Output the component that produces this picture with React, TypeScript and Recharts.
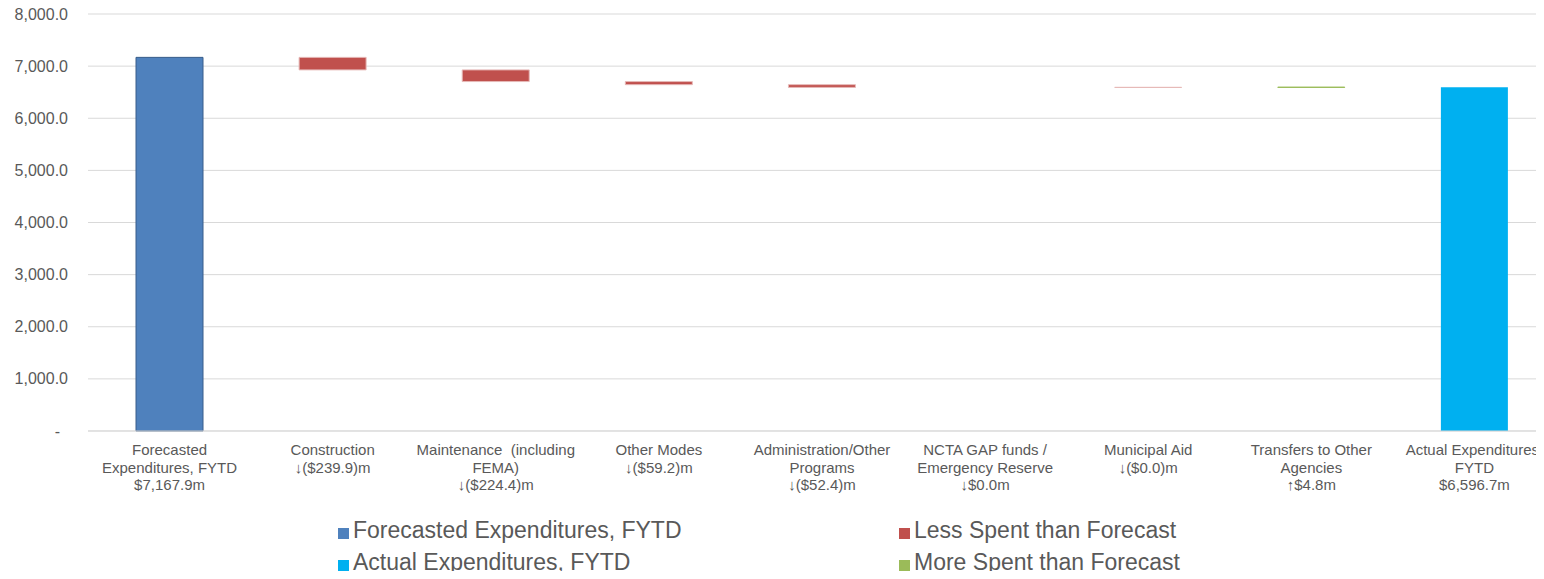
import React from "react";
import { BarChart, Bar, XAxis, YAxis, CartesianGrid } from "recharts";

// ---- data ----
const startLabel = ["Forecasted", "Expenditures, FYTD", "$7,167.9m"];
const endLabel = ["Actual Expenditures,", "FYTD", "$6,596.7m"];
const forecastTotal = 7167.9;
const actualTotal = 6596.7;

const deltaLabels: string[][] = [
  ["Construction", "↓($239.9)m"],
  ["Maintenance  (including", "FEMA)", "↓($224.4)m"],
  ["Other Modes", "↓($59.2)m"],
  ["Administration/Other", "Programs", "↓($52.4)m"],
  ["NCTA GAP funds /", "Emergency Reserve", "↓$0.0m"],
  ["Municipal Aid", "↓($0.0)m"],
  ["Transfers to Other", "Agencies", "↑$4.8m"],
];
const deltaValues = [-239.9, -224.4, -59.2, -52.4, 0.0, -0.02, 4.8];

const yTicks = [0, 1000, 2000, 3000, 4000, 5000, 6000, 7000, 8000];

const legendItems = [
  { label: "Forecasted Expenditures, FYTD", color: "#4F81BD", col: 0, row: 0 },
  { label: "Less Spent than Forecast", color: "#C0504D", col: 1, row: 0 },
  { label: "Actual Expenditures, FYTD", color: "#00B0F0", col: 0, row: 1 },
  { label: "More Spent than Forecast", color: "#9BBB59", col: 1, row: 1 },
];

const titleText = "Variance ($ millions) YTD, (FY 2025)";

// ---- build waterfall rows ----
type Row = {
  name: string;
  lines: string[];
  base: number;
  forecast: number;
  actual: number;
  less: number;
  more: number;
};

const rows: Row[] = [];
rows.push({ name: "start", lines: startLabel, base: 0, forecast: forecastTotal, actual: 0, less: 0, more: 0 });
let running = forecastTotal;
deltaLabels.forEach((lines, i) => {
  const d = deltaValues[i];
  if (d < 0) {
    rows.push({ name: "d" + i, lines, base: running + d, forecast: 0, actual: 0, less: -d, more: 0 });
  } else {
    rows.push({ name: "d" + i, lines, base: running, forecast: 0, actual: 0, less: 0, more: d });
  }
  running += d;
});
rows.push({ name: "end", lines: endLabel, base: 0, forecast: 0, actual: actualTotal, less: 0, more: 0 });

const FONT = "'Liberation Sans', Arial, sans-serif";
const TXT = "#595959";

const XTick = (props: any) => {
  const { x, y, payload } = props;
  const row = rows.find((r) => r.name === payload.value);
  const lines = row ? row.lines : [];
  return (
    <g>
      {lines.map((l, i) => (
        <text
          key={i}
          x={x}
          y={y + 24 + i * 17.5}
          textAnchor="middle"
          fontSize={15}
          fill={TXT}
          fontFamily={FONT}
          style={{ whiteSpace: "pre" }}
        >
          {l}
        </text>
      ))}
    </g>
  );
};

const YTick = (props: any) => {
  const { y, payload } = props;
  const v = payload.value as number;
  const label =
    v === 0
      ? "-"
      : v.toLocaleString("en-US", { minimumFractionDigits: 1, maximumFractionDigits: 1 });
  return (
    <text
      x={v === 0 ? 60 : 68}
      y={y + 5.5}
      textAnchor="end"
      fontSize={16}
      fill={TXT}
      fontFamily={FONT}
    >
      {label}
    </text>
  );
};

export default function App() {
  return (
    <div
      style={{
        position: "relative",
        width: 1544,
        height: 579,
        margin: -8,
        overflow: "hidden",
        background: "#fff",
        fontFamily: FONT,
      }}
    >
      <div style={{ position: "absolute", left: 0, top: 0 }}>
        <BarChart
          width={1560}
          height={579}
          data={rows}
          margin={{ top: 14, right: 4, left: 0, bottom: 0 }}
          barSize={67}
        >
          <CartesianGrid vertical={false} stroke="#D9D9D9" />
          <XAxis
            dataKey="name"
            height={148}
            interval={0}
            tick={<XTick />}
            tickLine={false}
            tickSize={0}
            tickMargin={0}
            axisLine={{ stroke: "#D9D9D9" }}
          />
          <YAxis
            width={88}
            domain={[0, 8000]}
            ticks={yTicks}
            tick={<YTick />}
            tickLine={false}
            axisLine={false}
            interval={0}
          />
          <Bar dataKey="base" stackId="a" fill="transparent" isAnimationActive={false} />
          <Bar dataKey="forecast" stackId="a" fill="#4F81BD" stroke="#385D8A" strokeWidth={1} isAnimationActive={false} />
          <Bar dataKey="actual" stackId="a" fill="#00B0F0" isAnimationActive={false} />
          <Bar dataKey="less" stackId="a" fill="#C0504D" stroke="#E6B9B8" strokeWidth={1} isAnimationActive={false} />
          <Bar dataKey="more" stackId="a" fill="#9BBB59" stroke="#9BBB59" strokeWidth={1} isAnimationActive={false} />
        </BarChart>
      </div>
      <svg
        width={1544}
        height={579}
        style={{ position: "absolute", left: 0, top: 0, pointerEvents: "none" }}
      >
        <text x={575} y={1} fontSize={21} fontWeight="bold" fill="#404040" fontFamily={FONT}>
          {titleText}
        </text>
        {legendItems.map((it, i) => {
          const ix = it.col === 0 ? 338 : 899;
          const by = it.row === 0 ? 538 : 570;
          return (
            <g key={i}>
              <rect x={ix} y={by - 10} width={11} height={11} fill={it.color} />
              <text x={ix + 15} y={by} fontSize={23} fill={TXT} fontFamily={FONT}>
                {it.label}
              </text>
            </g>
          );
        })}
      </svg>
    </div>
  );
}
